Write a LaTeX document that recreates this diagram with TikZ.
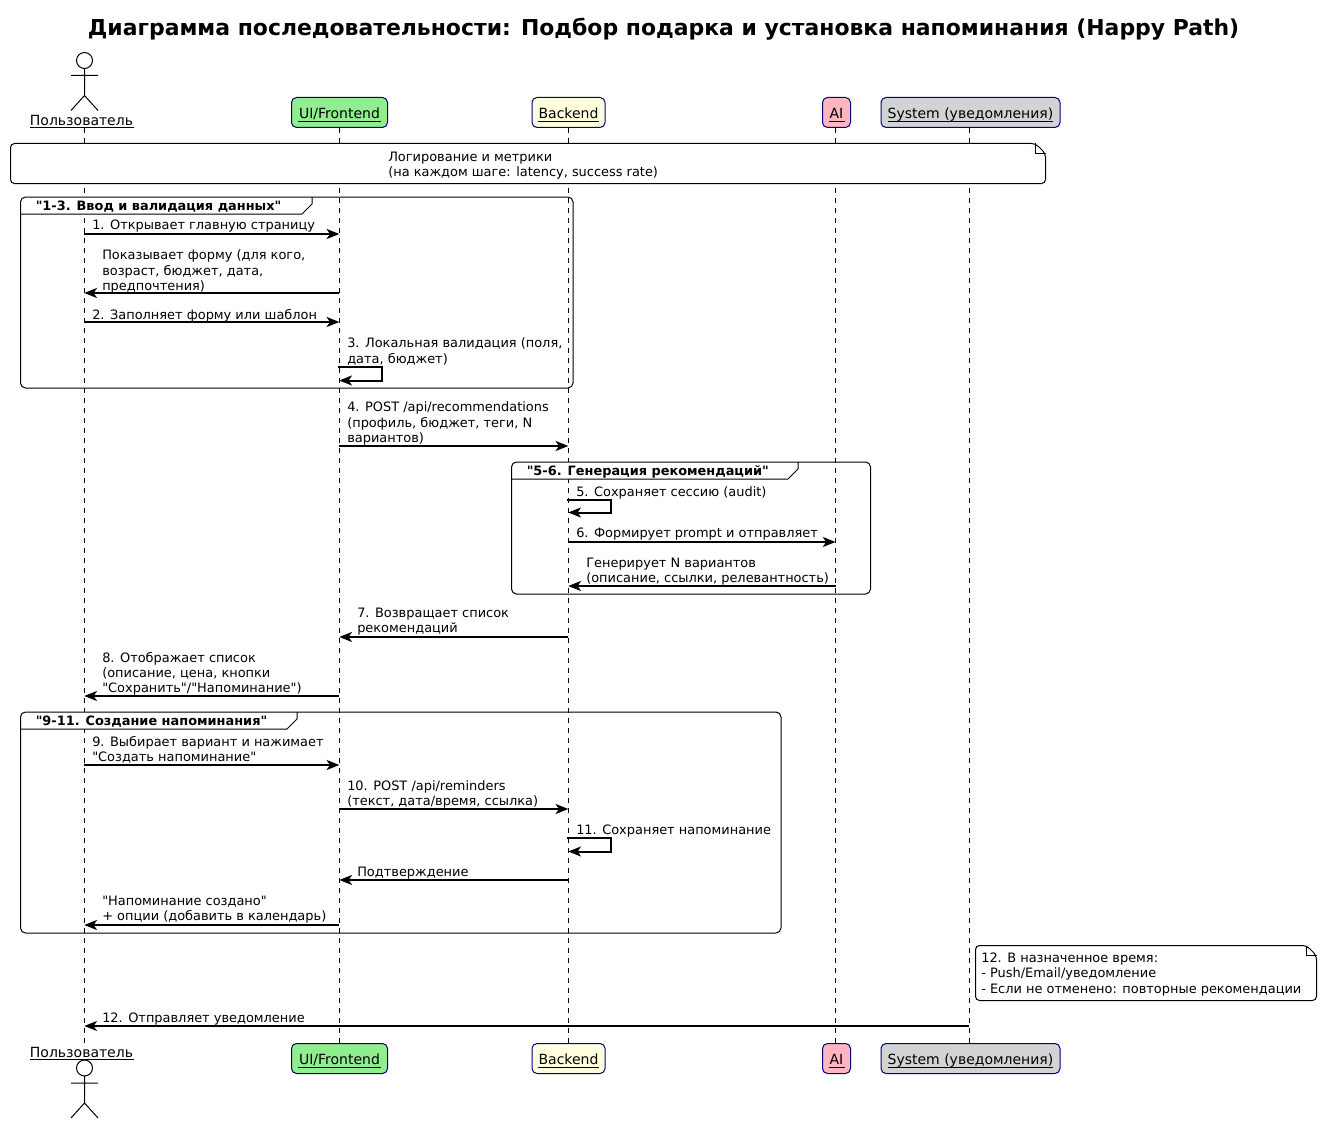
\documentclass[tikz,border=0pt]{standalone}
\usepackage{fontspec}
\newfontfamily\djv{DejaVu Sans}
\usetikzlibrary{arrows.meta,calc}
\definecolor{LGreen}{HTML}{90EE90}
\definecolor{LYellow}{HTML}{FFFFE0}
\definecolor{LPink}{HTML}{FFB6C1}
\definecolor{LGray}{HTML}{D3D3D3}
\definecolor{PBorder}{HTML}{000080}
\newcount\lblno
\newcommand{\lbl}[3]{\global\advance\lblno by 1 \node[txt] (lbl\the\lblno) at (#1,#2+1.5) {#3};}
\newcommand{\msg}[3]{\draw[msgline] (#1 |- 0,#3) -- (#2 |- 0,#3);}
\newcommand{\msgR}[3]{\draw[msgline,xshift=-0.75pt] (#1 |- 0,#3) -- (#2 |- 0,#3);}
\newcommand{\selfmsg}[3]{\draw[msgline] ($(#1 |- 0,#2)+(-1,0)$) -| ($(#1 |- 0,#3)+(42.5,0)$) -- (#1 |- 0,#3);}
\newcommand{\frm}[6]{% x1 y1 x2 y2 tabx text
  \fill[white,rounded corners=3.75pt] (#1,#2+17) -- (#1,#2) -- (#5,#2) -- (#5,#2+7) -- (#5-10,#2+17) -- cycle;
  \draw[frameline] (#1,#4) -- (#1,#2) -- (#3,#2) -- (#3,#4) -- cycle;
  \draw[frameline,sharp corners] (#1,#2+17) -- (#5-10,#2+17) -- (#5,#2+7) -- (#5,#2);
  \global\advance\lblno by 1
  \node[frmtxt] (lbl\the\lblno) at (#1+15,#2+10) {#6};}
\newcommand{\notebox}[4]{% x1 y1 x2 y2
  \fill[white,rounded corners=3pt] (#1,#2) rectangle (#3,#4);
  \draw[noteline] (#3-10,#2) -- (#1,#2) -- (#1,#4) -- (#3,#4) -- (#3,#2+10) -- cycle;
  \draw[line width=0.75pt,line join=miter] (#3-10,#2) -- (#3-10,#2+10) -- (#3,#2+10);}
\newcommand{\actor}[2]{% x, head y
  \draw[actorline] (#1,#2) circle[radius=6pt];
  \draw[actorline] (#1,#2+8) -- (#1,#2+35) (#1-13.5,#2+15) -- (#1+13.5,#2+15)
    (#1-13.5,#2+50) -- (#1,#2+35) -- (#1+13.5,#2+50);}
\tikzset{
  x=0.75pt,y=-0.75pt,
  base/.style={font=\djv\fontsize{9.7pt}{11.35pt}\selectfont,text=black},
  txt/.style={base,anchor=west,align=left,inner sep=0pt},
  frmtxt/.style={font=\djv\fontsize{9.67pt}{11.35pt}\selectfont\bfseries,anchor=west,inner sep=0pt},
  ptext/.style={font=\djv\fontsize{10.5pt}{12pt}\selectfont,inner sep=0pt,anchor=base},
  pbox/.style={draw=PBorder,line width=0.75pt,rounded corners=3.75pt,minimum height=22.5pt,inner sep=0pt,minimum width=#1,text height=8.7pt,text depth=0pt,font=\djv\fontsize{10.5pt}{12pt}\selectfont},
  lifeline/.style={line width=0.75pt,dash pattern=on 3.75pt off 3.75pt},
  msgline/.style={line width=1.5pt,-{Stealth[length=9.5pt,width=7.5pt,inset=2.5pt]},line join=miter},
  frameline/.style={line width=0.75pt,rounded corners=3.75pt},
  noteline/.style={line width=0.75pt,rounded corners=3pt},
  actorline/.style={line width=0.75pt},
  uline/.style={line width=0.75pt},
}
\begin{document}
\begin{tikzpicture}
\djv
\useasboundingbox[fill=white] (0,0) rectangle (1322,1124);
\coordinate (LA) at (84.3,128);
\coordinate (LU) at (339.3,128);
\coordinate (LB) at (568.3,128);
\coordinate (LI) at (835.5,128);
\coordinate (LS) at (969,128);
\coordinate (EA) at (84.3,1044);
\coordinate (EU) at (339.3,1044);
\coordinate (EB) at (568.3,1044);
\coordinate (EI) at (835.5,1044);
\coordinate (ES) at (969,1044);
\foreach \p in {A,U,B,I,S}{\draw[lifeline] (L\p) -- (E\p);}
% title
\node[font=\djv\fontsize{16.44pt}{19pt}\selectfont\bfseries,inner sep=0pt] (title) at (663.5,29) {Диаграмма последовательности: Подбор подарка и установка напоминания (Happy Path)};
% actors
\actor{84.5}{60.5}
\node[ptext] (actT) at (81.5,126) {Пользователь};
\draw[uline] (30,128) -- (133.5,128);
\actor{84.5}{1068}
\node[ptext] (actB) at (81.5,1057.3) {Пользователь};
\draw[uline] (30,1059.5) -- (133.5,1059.5);
% participants
\foreach \nm/\cx/\bw/\col/\tx/\uw in {
  u/339.5/96/LGreen/UI\slash Frontend/82.5,
  b/568.5/73/LYellow/Backend/60.5,
  i/836.5/28/LPink/AI/16,
  s/970.5/179/LGray/System (уведомления)/165}{
  \node[pbox=\bw*0.75pt,fill=\col] (\nm T) at (\cx,112.5) {\tx};
  \draw[uline] ($(\nm T.south)+(-\uw*0.375pt,5.1pt)$) -- ($(\nm T.south)+(\uw*0.375pt,5.1pt)$);
  \node[pbox=\bw*0.75pt,fill=\col] (\nm B) at (\cx,1058.5) {\tx};
  \draw[uline] ($(\nm B.south)+(-\uw*0.375pt,5.1pt)$) -- ($(\nm B.south)+(\uw*0.375pt,5.1pt)$);
}
% note 1
\notebox{10.5}{143.5}{1045.5}{183.5}
\lbl{388}{164}{Логирование и метрики\\(на каждом шаге: latency, success rate)}
% frame 1
\frm{20.5}{197}{573}{388}{312}{"1-3. Ввод и валидация данных"}
\msgR{LA}{LU}{234}
\lbl{92}{225}{1. Открывает главную страницу}
\msg{LU}{LA}{293}
\lbl{102}{270}{Показывает форму (для кого,\\возраст, бюджет, дата,\\предпочтения)}
\msgR{LA}{LU}{322}
\lbl{92}{314}{2. Заполняет форму или шаблон}
\selfmsg{LU}{367.3}{380.5}
\lbl{347}{350}{3. Локальная валидация (поля,\\дата, бюджет)}
% msg 4
\msgR{LU}{LB}{446}
\lbl{347}{422}{4. POST /api/recommendations\\(профиль, бюджет, теги, N\\вариантов)}
% frame 2
\frm{511.5}{462}{870.5}{594}{798}{"5-6. Генерация рекомендаций"}
\selfmsg{LB}{499.5}{512.5}
\lbl{576}{491}{5. Сохраняет сессию (audit)}
\msgR{LB}{LI}{542}
\lbl{576}{533}{6. Формирует prompt и отправляет}
\msg{LI}{LB}{586}
\lbl{586}{570}{Генерирует N вариантов\\(описание, ссылки, релевантность)}
% 7, 8
\msg{LB}{LU}{637}
\lbl{357}{620.5}{7. Возвращает список\\рекомендаций}
\msg{LU}{LA}{696}
\lbl{102}{672.5}{8. Отображает список\\(описание, цена, кнопки\\"Сохранить"/"Напоминание")}
% frame 3
\frm{20.5}{712}{781}{933}{297}{"9-11. Создание напоминания"}
\msgR{LA}{LU}{765}
\lbl{92}{748.5}{9. Выбирает вариант и нажимает\\"Создать напоминание"}
\msgR{LU}{LB}{809}
\lbl{347}{792.5}{10. POST /api/reminders\\(текст, дата/время, ссылка)}
\selfmsg{LB}{838}{851.5}
\lbl{576}{830}{11. Сохраняет напоминание}
\msg{LB}{LU}{880}
\lbl{357}{872}{Подтверждение}
\msg{LU}{LA}{925}
\lbl{102}{908.5}{"Напоминание создано"\\+ опции (добавить в календарь)}
% note 12
\notebox{975.5}{945.5}{1316.5}{1000.5}
\lbl{981}{973}{12. В назначенное время:\\- Push/Email/уведомление\\- Если не отменено: повторные рекомендации}
\msg{LS}{LA}{1026}
\lbl{102}{1018}{12. Отправляет уведомление}
\end{tikzpicture}
\end{document}
